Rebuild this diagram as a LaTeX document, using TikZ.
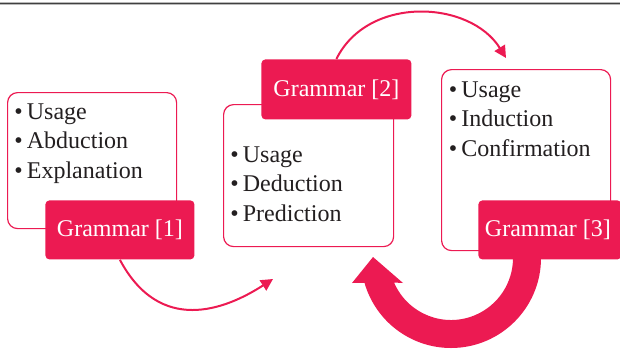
\documentclass[tikz,border=0pt]{standalone}
\usepackage{fontspec}
\setmainfont{Liberation Serif}
\usetikzlibrary{arrows.meta}

\definecolor{crimson}{RGB}{236,26,82}
\definecolor{ink}{RGB}{35,31,32}

\begin{document}
\begin{tikzpicture}[x=0.5pt,y=-0.5pt,
	listbox/.style={draw=crimson, line width=0.6pt, fill=white, rounded corners=5pt, inner sep=0pt, anchor=north west},
	grammarbox/.style={fill=crimson, text=white, rounded corners=2pt, inner sep=0pt, anchor=north west, font=\fontsize{12}{14.75}\selectfont},
	items/.style={text=ink, align=left, inner sep=0pt, anchor=base west, font=\fontsize{12}{14.75}\selectfont},
	flow/.style={draw=crimson, line width=1pt, -{Triangle[length=6pt,width=6pt]}}]

				\useasboundingbox (0,0) rectangle (620,348);

				% Rule on top
				\draw[gray!55, line width=1.4pt] (0,3.4) -- (620,3.4);
				\draw[black!75, line width=0.6pt] (0,3.4) -- (620,3.4);

				% Boxes
				\node[listbox, minimum width=84.5pt, minimum height=68pt] (box1) at (7,92) {};
				\node[listbox, minimum width=85pt, minimum height=71pt] (box2) at (223,104) {};
				\node[listbox, minimum width=84.5pt, minimum height=90.5pt] (box3) at (441,69) {};

				% (base anchor sits on the last line)
				\node[items] (list1) at (14,178) {•\hspace{.17em}Usage\\•\hspace{.17em}Abduction\\•\hspace{.17em}Explanation};
				\node[items] (list2) at (230,221) {•\hspace{.17em}Usage\\•\hspace{.17em}Deduction\\•\hspace{.17em}Prediction};
				\node[items] (list3) at (448.5,156) {•\hspace{.17em}Usage\\•\hspace{.17em}Induction\\•\hspace{.17em}Confirmation};

				% Grammar labels
				\node[grammarbox, minimum width=74.5pt, minimum height=29.5pt] (gram1) at (45,200) {Grammar [1]};
				\node[grammarbox, minimum width=75pt, minimum height=30pt] (gram2) at (261,59) {Grammar [2]};
				\node[grammarbox, minimum width=71.5pt, minimum height=29.5pt] (gram3) at (478,200) {\hspace{-2pt}Grammar [3]\hspace{1pt}};

				% Arrow ends
				\coordinate (tip1) at (506,58);
				\coordinate (tip2) at (273,279);
				\coordinate (hub) at (451,258);

				\draw[flow] (gram2.north) .. controls (368,-5) and (470,0) .. (tip1);
				\draw[flow] (gram1.south) .. controls (160,335) and (225,310) .. (tip2);

				% Big return arrow
				\fill[crimson] ([shift={(0:62)}]hub) -- ([shift={(0:90)}]hub)
					arc[start angle=0, end angle=164, radius=90]
					-- (352,283) -- (373,257) -- (403,283)
					-- ([shift={(156.7:62)}]hub)
					arc[start angle=156.7, end angle=0, radius=62] -- cycle;

\end{tikzpicture}
\end{document}
